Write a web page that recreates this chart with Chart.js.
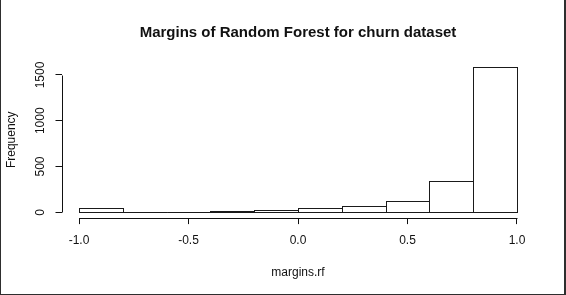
<!DOCTYPE html>
<html>
<head>
<meta charset="utf-8">
<script src="https://cdn.jsdelivr.net/npm/chart.js@4/dist/chart.umd.min.js"></script>
<style>
  html, body { margin: 0; padding: 0; background: #fff; }
  #wrap { position: relative; width: 566px; height: 295px; }
  #frame { position: absolute; left: 0; top: 0; width: 566px; height: 295px; box-sizing: border-box;
           border-left: 1px solid #2e2e2e; border-right: 2px solid #2e2e2e; border-bottom: 1px solid #2e2e2e; pointer-events: none; }
  canvas { display: block; }
</style>
</head>
<body>
<div id="wrap">
  <canvas id="c" width="566" height="295"></canvas>
  <div id="frame"></div>
</div>
<script>
// ---- data ----
const binEdges = [-1.0, -0.8, -0.6, -0.4, -0.2, 0.0, 0.2, 0.4, 0.6, 0.8, 1.0];
const counts   = [47, 7, 8, 14, 24, 52, 66, 123, 345, 1585];
const xTicks   = [-1.0, -0.5, 0.0, 0.5, 1.0];
const yTicks   = [0, 500, 1000, 1500];
const titleText = 'Margins of Random Forest for churn dataset';
const xLabel = 'margins.rf';
const yLabel = 'Frequency';

const points = counts.map((c, i) => ({ x: (binEdges[i] + binEdges[i + 1]) / 2, y: c }));
const xLo = binEdges[0], xHi = binEdges[binEdges.length - 1];
const xPad = (xHi - xLo) * 0.04;
const yTop = Math.max(...counts);
const yPad = yTop * 0.04;

const INK = '#111';
const FONT = 'Liberation Sans, Arial, sans-serif';

// R-style rectangle outlines drawn from the bar elements that Chart.js laid out
const rRects = {
  id: 'rRects',
  beforeDatasetDraw(chart, args) {
    const meta = chart.getDatasetMeta(args.index);
    const ctx = chart.ctx;
    ctx.save();
    ctx.strokeStyle = '#1a1a1a';
    ctx.fillStyle = '#ffffff';
    ctx.lineWidth = 1;
    meta.data.forEach(el => {
      const p = el.getProps(['x', 'y', 'base', 'width'], true);
      const l = Math.round(p.x - p.width / 2) + 0.5;
      const r = Math.round(p.x + p.width / 2) + 0.5;
      const t = Math.round(Math.min(p.y, p.base)) + 0.5;
      const b = Math.round(Math.max(p.y, p.base)) + 0.5;
      ctx.fillRect(l, t, r - l, b - t);
      ctx.strokeRect(l, t, r - l, b - t);
    });
    ctx.restore();
    return false;
  }
};

const rAxes = {
  id: 'rAxes',
  afterDraw(chart) {
    const ctx = chart.ctx;
    const xs = chart.scales.x, ys = chart.scales.y;
    const ca = chart.chartArea;
    ctx.save();
    ctx.strokeStyle = INK;
    ctx.lineWidth = 1;
    const by = Math.round(ca.bottom) + 0.5;
    ctx.beginPath();
    ctx.moveTo(Math.round(xs.getPixelForValue(xTicks[0])) + 0.5, by);
    ctx.lineTo(Math.round(xs.getPixelForValue(xTicks[xTicks.length - 1])) + 0.5, by);
    ctx.stroke();
    const lx = Math.round(ca.left) + 0.5;
    ctx.beginPath();
    ctx.moveTo(lx, Math.round(ys.getPixelForValue(yTicks[0])) + 0.5);
    ctx.lineTo(lx, Math.round(ys.getPixelForValue(yTicks[yTicks.length - 1])) + 0.5);
    ctx.stroke();
    ctx.fillStyle = INK;
    ctx.font = '12px ' + FONT;
    ctx.textAlign = 'center';
    ctx.textBaseline = 'alphabetic';
    ys.ticks.forEach(t => {
      const py = ys.getPixelForValue(t.value);
      ctx.save();
      ctx.translate(ca.left - 18, py);
      ctx.rotate(-Math.PI / 2);
      ctx.fillText(String(t.value), 0, 0);
      ctx.restore();
    });
    ctx.restore();
  }
};

new Chart(document.getElementById('c'), {
  type: 'bar',
  data: {
    datasets: [{
      data: points,
      backgroundColor: '#ffffff',
      borderColor: '#1a1a1a',
      borderWidth: 0,
      barPercentage: 1,
      categoryPercentage: 1
    }]
  },
  options: {
    responsive: false,
    animation: false,
    devicePixelRatio: 1,
    layout: { padding: { left: 0, right: 31.5, top: 0, bottom: 0 } },
    plugins: {
      legend: { display: false },
      tooltip: { enabled: false },
      title: {
        display: true,
        text: titleText,
        fullSize: false,
        color: INK,
        font: { family: FONT, size: 15, weight: 'bold' },
        padding: { top: 23.5, bottom: 19.9 }
      }
    },
    scales: {
      x: {
        type: 'linear',
        min: xLo - xPad,
        max: xHi + xPad,
        offset: false,
        afterBuildTicks: s => { s.ticks = xTicks.map(v => ({ value: v })); },
        afterFit: s => { s.height = 76.9; },
        border: { display: false },
        grid: { display: true, drawOnChartArea: false, drawTicks: true, tickLength: 6, color: INK, lineWidth: 1, offset: false },
        ticks: {
          autoSkip: false, maxRotation: 0, minRotation: 0, padding: 9, color: INK,
          font: { family: FONT, size: 12 },
          callback: v => Number(v).toFixed(1)
        },
        title: {
          display: true, text: xLabel, color: INK,
          font: { family: FONT, size: 12 },
          padding: { top: 0, bottom: 14.8 }
        }
      },
      y: {
        type: 'linear',
        min: -yPad,
        max: yTop + yPad,
        afterBuildTicks: s => { s.ticks = yTicks.map(v => ({ value: v })); },
        afterFit: s => { s.width = 61.5; },
        border: { display: false },
        grid: { display: true, drawOnChartArea: false, drawTicks: true, tickLength: 6, color: INK, lineWidth: 1 },
        ticks: { display: false },
        title: {
          display: true, text: yLabel, color: INK,
          font: { family: FONT, size: 12 },
          padding: { top: 4.8, bottom: 0 }
        }
      }
    }
  },
  plugins: [rRects, rAxes]
});
</script>
</body>
</html>
